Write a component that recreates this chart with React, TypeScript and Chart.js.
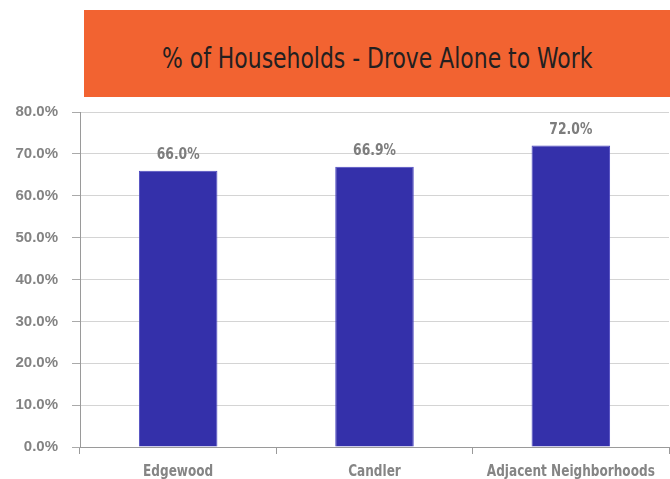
import React, { useEffect, useRef } from "react";
import { Chart, registerables } from "chart.js";

Chart.register(...registerables);

const title = "% of Households - Drove Alone to Work";
const categories = ["Edgewood", "Candler", "Adjacent Neighborhoods"];
const values = [66.0, 66.9, 72.0];
const yMin = 0;
const yMax = 80;
const yStep = 10;

const condensedText = (ctx: any, text: string, x: number, y: number, sx: number) => {
  ctx.save();
  ctx.translate(x, y);
  ctx.scale(sx, 1);
  ctx.fillText(text, 0, 0);
  ctx.restore();
};

const valueLabelPlugin = {
  id: "valueLabels",
  afterDatasetsDraw(chart: any) {
    const ctx = chart.ctx;
    const meta = chart.getDatasetMeta(0);
    ctx.save();
    ctx.font = "bold 16px 'DejaVu Sans Condensed', sans-serif";
    ctx.fillStyle = "#7d7d7d";
    ctx.textAlign = "center";
    ctx.textBaseline = "alphabetic";
    meta.data.forEach((bar: any, i: number) => {
      condensedText(ctx, values[i].toFixed(1) + "%", bar.x, bar.y - 12, 0.86);
    });
    ctx.restore();
  },
};

const xLabelPlugin = {
  id: "xLabels",
  afterDraw(chart: any) {
    const ctx = chart.ctx;
    const xs = chart.scales.x;
    ctx.save();
    ctx.font = "bold 16px 'DejaVu Sans Condensed', sans-serif";
    ctx.fillStyle = "#858585";
    ctx.textAlign = "center";
    ctx.textBaseline = "alphabetic";
    categories.forEach((c, i) => {
      condensedText(ctx, c, xs.getPixelForValue(i), chart.chartArea.bottom + 29, 0.84);
    });
    ctx.restore();
  },
};

export default function App() {
  const ref = useRef<HTMLCanvasElement | null>(null);
  useEffect(() => {
    if (!ref.current) return;
    const chart = new Chart(ref.current, {
      type: "bar",
      data: {
        labels: categories,
        datasets: [
          {
            data: values,
            backgroundColor: "#3430AA",
            borderColor: "#4d49c0",
            borderWidth: 1,
            barPercentage: 0.8,
            categoryPercentage: 0.5,
          },
        ],
      },
      options: {
        responsive: false,
        animation: false,
        layout: { padding: { left: 0, right: 1, top: 112, bottom: 0 } },
        plugins: { legend: { display: false }, tooltip: { enabled: false } },
        scales: {
          y: {
            min: yMin,
            max: yMax,
            ticks: {
              stepSize: yStep,
              callback: (v: any) => Number(v).toFixed(1) + "%",
              font: { family: "'Liberation Sans', Arial, sans-serif", weight: "bold", size: 15 },
              color: "#838383",
              padding: 14,
            },
            grid: { color: "#d4d4d4", tickLength: 8, tickColor: "#aaaaaa" },
            border: { color: "#9a9a9a" },
            afterFit: (s: any) => {
              s.width = 80;
            },
          },
          x: {
            grid: { drawOnChartArea: false, tickLength: 7, color: "#9a9a9a", offset: true },
            ticks: {
              display: false,
              autoSkip: false,
              maxRotation: 0,
              minRotation: 0,
            },
            border: { color: "#9a9a9a" },
            afterFit: (s: any) => {
              s.height = 32;
            },
          },
        },
      },
      plugins: [valueLabelPlugin, xLabelPlugin],
    });
    return () => chart.destroy();
  }, []);

  return (
    <div style={{ position: "fixed", left: 0, top: 0, width: 670, height: 479, background: "#fff", overflow: "hidden" }}>
      <canvas ref={ref} width={670} height={479} style={{ position: "absolute", left: 0, top: 0 }} />
      <div
        style={{
          position: "absolute",
          left: 84,
          top: 10,
          width: 586,
          height: 87,
          background: "#F26331",
          display: "flex",
          alignItems: "center",
          justifyContent: "center",
          fontFamily: "'DejaVu Sans Condensed', sans-serif",
          fontSize: 29,
          color: "#231F20",
        }}
      >
        <span style={{ display: "inline-block", marginTop: 8, transform: "scaleX(0.84)", whiteSpace: "nowrap" }}>{title}</span>
      </div>
    </div>
  );
}
